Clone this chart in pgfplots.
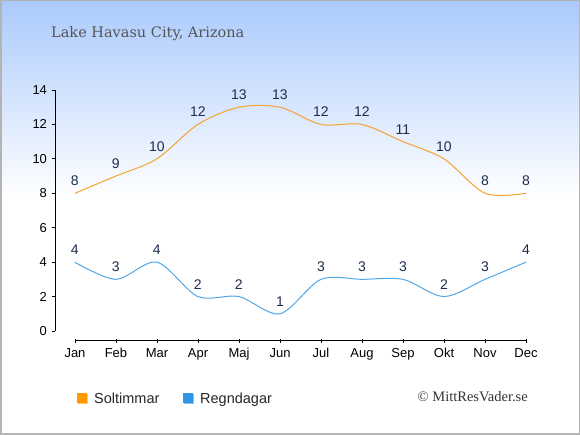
\documentclass[border=0pt]{standalone}
\usepackage{pgfplots}
\pgfplotsset{compat=1.18}
\usepackage{fontspec}
\setmainfont{Liberation Sans}
\newfontfamily\seriffont{Liberation Serif}
\newfontfamily\titlefont{DejaVu Serif}
\definecolor{bgtop}{RGB}{170,202,252}
\definecolor{sunline}{RGB}{245,162,48}
\definecolor{rainline}{RGB}{80,168,234}
\definecolor{sunbox}{RGB}{255,154,0}
\definecolor{rainbox}{RGB}{47,150,232}
\definecolor{lbl}{RGB}{30,44,76}
\definecolor{titlegray}{RGB}{85,85,85}
\definecolor{framegray}{RGB}{180,180,180}
\begin{document}
\begin{tikzpicture}[x=1pt,y=1pt]
\fill[white] (0,0) rectangle (580,435);
\shade[top color=bgtop, bottom color=white] (0,237) rectangle (580,435);
\draw[framegray, line width=1.5pt] (0.75,0.75) rectangle (579.25,434.25);
\useasboundingbox (0,0) rectangle (580,435);
\node[anchor=base west, text=titlegray, font=\titlefont\fontsize{14.5}{17}\selectfont, inner sep=0] at (51,397.3) {Lake Havasu City, Arizona};
\begin{axis}[
  at={(55pt,104pt)}, anchor=south west,
  scale only axis, width=471pt, height=241pt,
  xmin=-0.483, xmax=11, ymin=0, ymax=14,
  axis x line=none, axis y line*=left,
  ytick={0,2,...,14},
  tick align=outside, major tick length=3.5pt,
  tick style={black, line width=0.8pt},
  axis line style={black, line width=1pt},
  /pgf/number format/assume math mode=true,
  yticklabel style={font=\fontsize{13}{15}\selectfont, anchor=east, xshift=-1pt},
  clip=false,
  nodes near coords,
  every node near coord/.append style={font=\fontsize{14}{16}\selectfont, text=lbl, anchor=base, inner sep=0pt, yshift=7.5pt},
]
\addplot[smooth, sunline, line width=1pt] coordinates {
(0,8) (1,9) (2,10) (3,12) (4,13) (5,13) (6,12) (7,12) (8,11) (9,10) (10,8) (11,8)};
\addplot[smooth, rainline, line width=1pt] coordinates {
(0,4) (1,3) (2,4) (3,2) (4,2) (5,1) (6,3) (7,3) (8,3) (9,2) (10,3) (11,4)};
\end{axis}
\begin{axis}[
  at={(75pt,94pt)}, anchor=south west,
  scale only axis, width=451pt, height=1pt,
  xmin=0, xmax=11, ymin=0, ymax=1,
  axis x line*=bottom, axis y line=none,
  xtick={0,...,11},
  xticklabels={Jan,Feb,Mar,Apr,Maj,Jun,Jul,Aug,Sep,Okt,Nov,Dec},
  tick align=center, major tick length=4.5pt,
  tick style={black, line width=0.8pt},
  axis line style={black, line width=1pt},
  xticklabel style={font=\fontsize{13}{15}\selectfont, anchor=base, yshift=-14pt},
]
\addplot[draw=none] coordinates {(0,0)};
\end{axis}
\fill[sunbox!60!white] (78,31) rectangle (88,41);
\fill[sunbox] (77,32) rectangle (87,42);
\node[anchor=base west, inner sep=0, font=\fontsize{14.5}{16}\selectfont, text=black!85] at (94,31.5) {Soltimmar};
\fill[rainbox!60!white] (184,31) rectangle (194,41);
\fill[rainbox] (183,32) rectangle (193,42);
\node[anchor=base west, inner sep=0, font=\fontsize{14.5}{16}\selectfont, text=black!85] at (200,31.5) {Regndagar};
\node[anchor=base east, inner sep=0, font=\seriffont\fontsize{14.5}{16}\selectfont, text=black!80] at (528,33) {\textcopyright\ MittResVader.se};
\end{tikzpicture}
\end{document}
